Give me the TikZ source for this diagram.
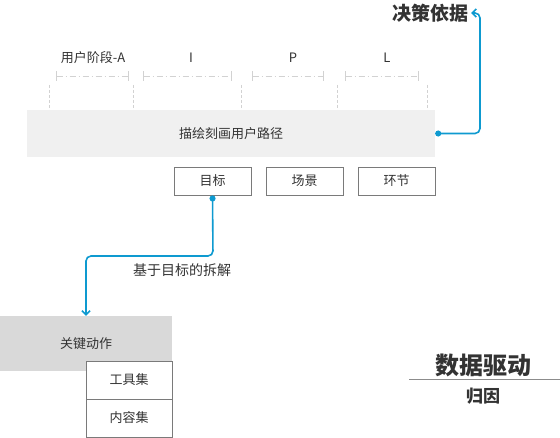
\documentclass[tikz,border=0pt]{standalone}
\usepackage{fontspec}
\newfontfamily\cjk{Noto Sans CJK SC}
\usetikzlibrary{arrows.meta,calc}

\definecolor{ink}{HTML}{333333}
\definecolor{flow}{HTML}{0E9AD0}
\definecolor{frame}{HTML}{7A7A7A}
\definecolor{guide}{HTML}{D2D2D2}

\begin{document}
\begin{tikzpicture}[x=1pt, y=-1pt,
    word/.style ={font=\cjk\fontsize{13}{15}\selectfont, text=ink, inner sep=1pt},
    title/.style={font=\cjk\bfseries\fontsize{19}{22}\selectfont, text=ink, inner sep=1pt},
    tag/.style  ={word, draw=frame, line width=0.9pt, fill=white, minimum width=77pt, minimum height=28pt},
    span/.style ={draw=guide, line width=0.8pt, dash pattern=on 6pt off 3pt on 1pt off 3pt,
                  {Bar[width=10pt]}-{Bar[width=10pt]}},
    cut/.style  ={draw=guide, line width=0.8pt, dash pattern=on 3pt off 2pt},
    link/.style ={draw=flow, line width=1.6pt, rounded corners=5pt,
                  {Circle[length=6pt]}-{Straight Barb[length=4pt,width=8pt]}},
  ]
  \useasboundingbox (0,0) rectangle (560,438);

  % ---------------- stages over the user path ------------------------------
  \node[word] (stA) at (93,58)  {用户阶段-A};
  \node[word] (stI) at (191,58) {I};
  \node[word] (stP) at (293,58) {P};
  \node[word] (stL) at (387,58) {L};

  \draw[span] (56,76)  -- (129,76);
  \draw[span] (143,76) -- (232,76);
  \draw[span] (252,76) -- (324,76);
  \draw[span] (345,76) -- (419,76);

  \draw[cut] (49,85)  -- (49,110);
  \draw[cut] (133,85) -- (133,110);
  \draw[cut] (241,85) -- (241,110);
  \draw[cut] (337,85) -- (337,110);
  \draw[cut] (427,85) -- (427,110);

  % ---------------- the user path ------------------------------------------
  \node[word, fill=black!6, minimum width=408pt, minimum height=47pt] (path) at (231,133.5) {描绘刻画用户路径};

  \node[tag] (goal)  at (212.5,181) {目标};
  \node[tag] (scene) at (304.5,181) {场景};
  \node[tag] (step)  at (396.5,181) {环节};

  % ---------------- basis for decisions ------------------------------------
  \node[title] (basis) at (430,13) {决策依据};
  \coordinate (turn) at (480,13);
  \draw[link] (path.east) -| (turn) -- ($(basis.east)+(2,0)$);

  % ---------------- breaking the goal down ---------------------------------
  \node[word, fill=black!15, minimum width=172pt, minimum height=55pt] (key) at (86,343.5) {关键动作};
  \node[tag, minimum width=86pt, minimum height=38pt] (tools)   at (129,380) {工具集};
  \node[tag, minimum width=86pt, minimum height=38pt] (content) at (129,418) {内容集};

  \coordinate (bend) at (213,256);
  \draw[link] (goal.south) -- (bend) -| (key.north);
  \node[word, font=\cjk\fontsize{14}{16}\selectfont, fill=white] (split) at (182,270) {基于目标的拆解};

  % ---------------- data driven --------------------------------------------
  \node[title, font=\cjk\bfseries\fontsize{24}{28}\selectfont] (data) at (483,365) {数据驱动};
  \node[word, font=\cjk\bfseries\fontsize{17}{20}\selectfont] (cause) at (483,396) {归因};
  \draw[draw=black!45, line width=1pt] (409,380) -- (560,380);

\end{tikzpicture}
\end{document}
